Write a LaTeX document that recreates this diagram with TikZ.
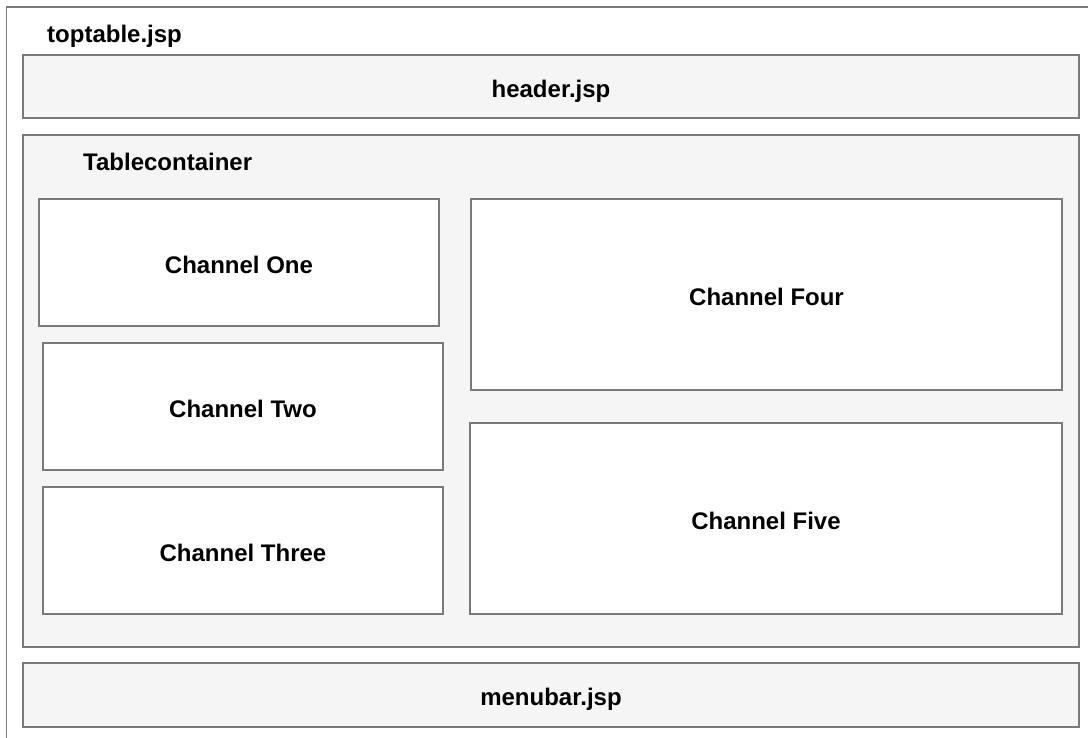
\documentclass[tikz,border=0pt]{standalone}
\usepackage{fontspec}
\setmainfont{Liberation Sans}
\begin{document}
\begin{tikzpicture}[x=1pt,y=-1pt,
  every node/.style={font=\fontsize{24}{28}\selectfont\bfseries, text=black, text height=21pt, text depth=0pt},
  frame/.style={draw=black!52, line width=1.6pt, fill=#1, inner sep=0pt, outer sep=0pt, anchor=north west},
  frame/.default=white,
  lbl/.style={anchor=west, inner sep=0pt}]
\useasboundingbox (0,0) rectangle (1088,737);
\node[frame=white, minimum width=1100, minimum height=740] (outer) at (6.5,7) {};
\node[lbl] (tt) at (47,32) {toptable.jsp};
\node[frame=black!4, minimum width=1056, minimum height=63] (header) at (23,55) {header.jsp};
\node[frame=black!4, minimum width=1056, minimum height=512] (tc) at (23,135) {};
\node[lbl] (tcl) at (83,160) {Tablecontainer};
\node[frame, minimum width=400, minimum height=127] (c1) at (39,199) {Channel One};
\node[frame, minimum width=400, minimum height=127] (c2) at (43,343) {Channel Two};
\node[frame, minimum width=400, minimum height=127] (c3) at (43,487) {Channel Three};
\node[frame, minimum width=591, minimum height=191] (c4) at (471,199) {Channel Four};
\node[frame, minimum width=592, minimum height=191] (c5) at (470,423) {Channel Five};
\node[frame=black!4, minimum width=1056, minimum height=64] (menu) at (23,663) {menubar.jsp};
\end{tikzpicture}
\end{document}
